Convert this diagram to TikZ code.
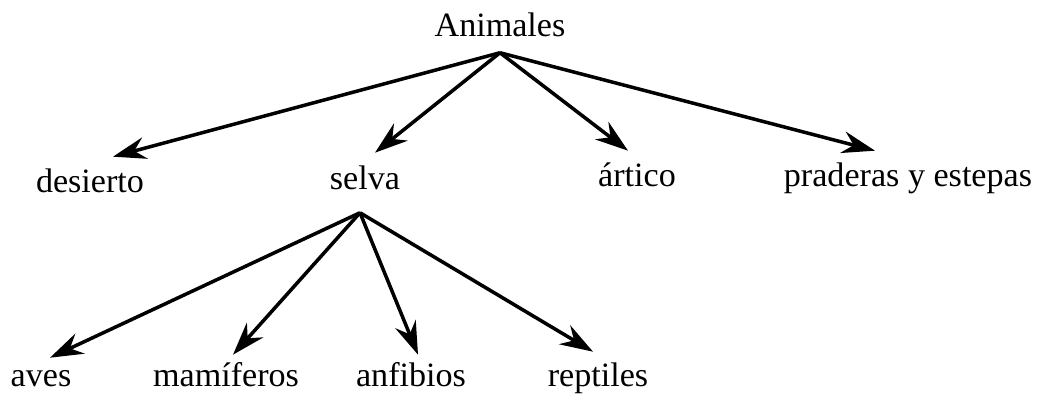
\documentclass[tikz,border=0pt]{standalone}
\usepackage{fontspec}
\setmainfont{Liberation Serif}
\usepackage{tikz}
\usetikzlibrary{arrows.meta}

\begin{document}
\begin{tikzpicture}[x=0.01cm,y=-0.01cm,font=\fontsize{9.7}{12}\selectfont,
 t/.style={anchor=base,inner sep=0pt,text height=7pt,text depth=2pt},
 arr/.style={line width=1pt,-{Stealth[length=3.3mm,width=2.2mm,inset=1.1mm]}}]
\useasboundingbox (0,0) rectangle (1039,393);
% raiz y primer nivel
\node[t] (animales) at (500,36) {Animales};
\node[t] (desierto) at (90,192) {desierto};
\node[t] (selva) at (365,189) {selva};
\node[t] (artico) at (637,186) {ártico};
\node[t] (praderas) at (908,186) {praderas y estepas};
% segundo nivel, bajo selva
\node[t] (aves) at (41,386) {aves};
\node[t] (mamiferos) at (226,386) {mamíferos};
\node[t] (anfibios) at (411,386) {anfibios};
\node[t] (reptiles) at (598,386) {reptiles};
\coordinate (r0) at ([yshift=-0.9mm]animales.south);
\coordinate (r1) at ([xshift=-0.5mm,yshift=-1.6mm]selva.south);
\draw[arr] (r0) -- ([xshift=2.3mm,yshift=1.0mm]desierto.north);
\draw[arr] (r0) -- ([xshift=1.0mm,yshift=1.1mm]selva.north);
\draw[arr] (r0) -- ([xshift=-0.9mm,yshift=1.0mm]artico.north);
\draw[arr] (r0) -- ([xshift=-3.3mm,yshift=1.0mm]praderas.north);
\draw[arr] (r1) -- ([xshift=0.9mm,yshift=0.3mm]aves.north);
\draw[arr] (r1) -- ([xshift=0.7mm,yshift=0.6mm]mamiferos.north);
\draw[arr] (r1) -- ([xshift=0.7mm,yshift=0.6mm]anfibios.north);
\draw[arr] (r1) -- ([xshift=-0.5mm,yshift=0.9mm]reptiles.north);
\end{tikzpicture}
\end{document}
